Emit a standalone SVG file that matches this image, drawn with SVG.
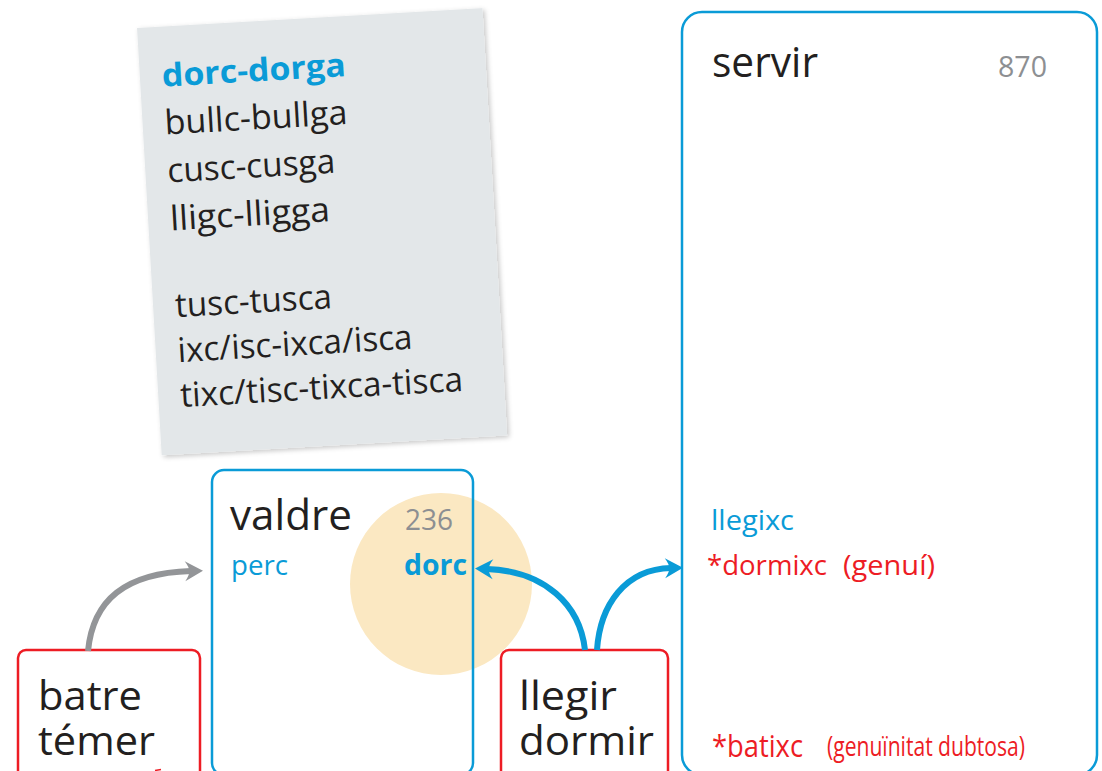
<svg xmlns="http://www.w3.org/2000/svg" width="1102" height="771" viewBox="0 0 1102 771">
  <style>
    .t { font-family: "Open Sans", "Liberation Sans", sans-serif; fill: #231f20; }
    .blue { fill: #0a9bd7; }
    .red { fill: #ed1c24; }
    .num { fill: #8d8f92; }
    .bold { font-weight: 700; }
    .bbox { fill: none; stroke: #0a9bd7; stroke-width: 2.5; }
    .rbox { fill: #ffffff; stroke: #ed1c24; stroke-width: 2.5; }
    .conn { fill: none; stroke-width: 6; }
  </style>
  <defs>
    <filter id="shadow" x="-10%" y="-10%" width="125%" height="125%">
      <feDropShadow dx="2" dy="2" stdDeviation="2.5" flood-color="#000" flood-opacity="0.22"/>
    </filter>
    <marker id="ahBlue" markerUnits="userSpaceOnUse" markerWidth="30" markerHeight="30" viewBox="-15 -15 30 30" refX="0" refY="0" orient="auto">
      <path d="M12,0 L-6,-10 Q-1,-3 -2,0 Q-1,3 -6,10 Z" fill="#0a9bd7"/>
    </marker>
    <marker id="ahGray" markerUnits="userSpaceOnUse" markerWidth="30" markerHeight="30" viewBox="-15 -15 30 30" refX="0" refY="0" orient="auto">
      <path d="M12,0 L-6,-10 Q-1,-3 -2,0 Q-1,3 -6,10 Z" fill="#939598"/>
    </marker>
  </defs>

  <!-- note card -->
  <g id="card" transform="translate(137,28) rotate(-3.3)">
    <rect x="0" y="0" width="346" height="428" fill="#e3e7e9" filter="url(#shadow)"/>
    <text class="t blue bold" x="22" y="60" font-size="32" textLength="184" lengthAdjust="spacingAndGlyphs">dorc-dorga</text>
    <text class="t" x="22" y="108" font-size="34" textLength="183" lengthAdjust="spacingAndGlyphs">bullc-bullga</text>
    <text class="t" x="22" y="156" font-size="34" textLength="168" lengthAdjust="spacingAndGlyphs">cusc-cusga</text>
    <text class="t" x="22" y="204" font-size="34" textLength="160" lengthAdjust="spacingAndGlyphs">lligc-lligga</text>
    <text class="t" x="22" y="291" font-size="34" textLength="157" lengthAdjust="spacingAndGlyphs">tusc-tusca</text>
    <text class="t" x="22" y="336" font-size="34" textLength="235" lengthAdjust="spacingAndGlyphs">ixc/isc-ixca/isca</text>
    <text class="t" x="22" y="381" font-size="34" textLength="283" lengthAdjust="spacingAndGlyphs">tixc/tisc-tixca-tisca</text>
  </g>

  <!-- highlight circle -->
  <circle cx="441" cy="584" r="91" fill="#fbe8c2"/>

  <g id="valdre">
    <rect class="bbox" x="212" y="470" width="261" height="305" rx="12"/>
    <text class="t" x="230" y="530" font-size="42" textLength="122" lengthAdjust="spacingAndGlyphs">valdre</text>
    <text class="t num" x="405" y="530" font-size="29" textLength="48" lengthAdjust="spacingAndGlyphs">236</text>
    <text class="t blue" x="231" y="575" font-size="28" textLength="57" lengthAdjust="spacingAndGlyphs">perc</text>
    <text class="t blue bold" x="404" y="575" font-size="28" textLength="63" lengthAdjust="spacingAndGlyphs">dorc</text>
  </g>

  <g id="servir">
    <rect class="bbox" x="682" y="12" width="415" height="763" rx="20"/>
    <text class="t" x="712" y="77" font-size="42" textLength="106" lengthAdjust="spacingAndGlyphs">servir</text>
    <text class="t num" x="998" y="77" font-size="29" textLength="49" lengthAdjust="spacingAndGlyphs">870</text>
    <text class="t blue" x="711" y="530" font-size="28" textLength="83" lengthAdjust="spacingAndGlyphs">llegixc</text>
    <text class="t red" x="707" y="575" font-size="28" textLength="120" lengthAdjust="spacingAndGlyphs">*dormixc</text>
    <text class="t red" x="843" y="575" font-size="28" textLength="92" lengthAdjust="spacingAndGlyphs">(genuí)</text>
    <text class="t red" x="712" y="757" font-size="31" textLength="91" lengthAdjust="spacingAndGlyphs">*batixc</text>
    <text class="t red" x="827" y="756" font-size="28" textLength="198" lengthAdjust="spacingAndGlyphs">(genuïnitat dubtosa)</text>
  </g>

  <g id="batre">
    <rect class="rbox" x="18" y="650" width="182" height="130" rx="8"/>
    <text class="t" x="38" y="710" font-size="41" textLength="104" lengthAdjust="spacingAndGlyphs">batre</text>
    <text class="t" x="38" y="755" font-size="41" textLength="117" lengthAdjust="spacingAndGlyphs">témer</text>
  </g>

  <g id="llegir">
    <rect class="rbox" x="501" y="650" width="167" height="130" rx="8"/>
    <text class="t" x="519" y="710" font-size="41" textLength="98" lengthAdjust="spacingAndGlyphs">llegir</text>
    <text class="t" x="519" y="755" font-size="41" textLength="135" lengthAdjust="spacingAndGlyphs">dormir</text>
  </g>

  <g id="connectors">
    <path class="conn" stroke="#939598" d="M88,651 C93,600 125,573 191,571" marker-end="url(#ahGray)"/>
    <path class="conn" stroke="#0a9bd7" d="M585,650 C580,605 545,571 487,569" marker-end="url(#ahBlue)"/>
    <path class="conn" stroke="#0a9bd7" d="M597,650 C600,605 625,569 671,568" marker-end="url(#ahBlue)"/>
    <path d="M155,770.5 L161,769.5" stroke="#ed1c24" stroke-width="1.5" fill="none"/>
  </g>
</svg>
